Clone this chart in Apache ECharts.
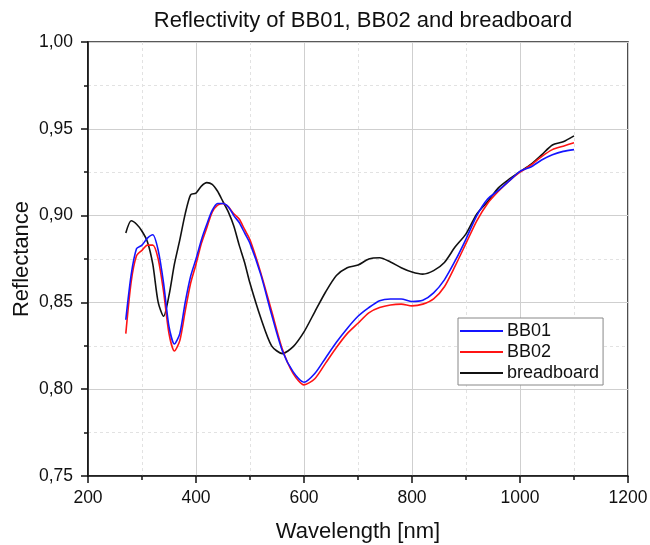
<!DOCTYPE html>
<html>
<head>
    <meta charset="utf-8">
    <title>Reflectivity</title>
    <script src="https://cdn.jsdelivr.net/npm/echarts@6/dist/echarts.min.js"></script>
    <style>
        html, body { margin: 0; padding: 0; background: #fff; }
        #chart { width: 650px; height: 545px; }
    </style>
</head>
<body>
<div id="chart"></div>
<script>
    // wavelength in nm
    var wavelengths = [270, 280, 290, 300, 310, 320, 330, 340, 350, 360, 370, 380, 390, 400, 410, 420, 430, 440, 450, 460,
        470, 480, 490, 500, 520, 540, 560, 580, 600, 620, 640, 660, 680, 700, 720, 740, 760, 780, 800, 820,
        840, 860, 880, 900, 920, 940, 960, 980, 1000, 1020, 1040, 1060, 1080, 1100];

    var bb01 = [0.840, 0.866, 0.881, 0.883, 0.887, 0.889, 0.880, 0.861, 0.836, 0.826, 0.832, 0.850, 0.865, 0.875, 0.886, 0.895, 0.903, 0.907, 0.907, 0.905,
        0.900, 0.896, 0.890, 0.884, 0.866, 0.843, 0.822, 0.810, 0.804, 0.809, 0.818, 0.827, 0.835, 0.842, 0.847, 0.851, 0.852, 0.852, 0.8505, 0.8512,
        0.8555, 0.863, 0.874, 0.8865, 0.900, 0.9095, 0.9145, 0.920, 0.9255, 0.928, 0.932, 0.935, 0.937, 0.938];

    var bb02 = [0.832, 0.862, 0.877, 0.880, 0.883, 0.883, 0.875, 0.856, 0.832, 0.822, 0.828, 0.845, 0.861, 0.872, 0.884, 0.893, 0.902, 0.906, 0.907, 0.905,
        0.901, 0.898, 0.892, 0.886, 0.867, 0.845, 0.823, 0.809, 0.8025, 0.806, 0.815, 0.824, 0.832, 0.838, 0.844, 0.847, 0.8485, 0.849, 0.848, 0.849,
        0.852, 0.859, 0.871, 0.884, 0.897, 0.907, 0.914, 0.920, 0.925, 0.929, 0.934, 0.938, 0.940, 0.942];

    var breadboard = [0.890, 0.897, 0.895, 0.891, 0.885, 0.872, 0.850, 0.842, 0.854, 0.872, 0.886, 0.901, 0.912, 0.913, 0.917, 0.919, 0.918, 0.914, 0.908, 0.902,
        0.894, 0.883, 0.873, 0.861, 0.841, 0.825, 0.8205, 0.8245, 0.833, 0.8446, 0.856, 0.8655, 0.870, 0.8715, 0.875, 0.8757, 0.8733, 0.870, 0.8675, 0.8663,
        0.8683, 0.873, 0.882, 0.8895, 0.901, 0.908, 0.916, 0.921, 0.9253, 0.9295, 0.935, 0.9407, 0.9425, 0.9459];

    var seriesNames = ['BB01', 'BB02', 'breadboard'];
    var seriesColors = ['#1414ff', '#ff1414', '#111111'];

    function pairs(ys) {
        var out = [];
        for (var i = 0; i < wavelengths.length; i++) {
            out.push([wavelengths[i], ys[i]]);
        }
        return out;
    }

    var myChart = echarts.init(document.getElementById('chart'));
    var font = 'Liberation Sans, Arial, sans-serif';
    var dataList = [bb01, bb02, breadboard];
    var series = [];
    for (var i = 0; i < dataList.length; i++) {
        series.push({
            name: seriesNames[i],
            type: 'line',
            data: pairs(dataList[i]),
            symbol: 'none',
            smooth: 0.25,
            lineStyle: { color: seriesColors[i], width: 1.6 },
            itemStyle: { color: seriesColors[i] },
            z: 3 - i
        });
    }

    var option = {
        animation: false,
        backgroundColor: '#fff',
        title: {
            text: 'Reflectivity of BB01, BB02 and breadboard',
            left: 358,
            top: 5,
            textAlign: 'center',
            textStyle: { fontFamily: font, fontSize: 22, fontWeight: 'normal', color: '#111' }
        },
        grid: {
            left: 88, right: 22, top: 42, bottom: 69,
            outerBoundsMode: 'none',
            containLabel: false,
            show: true,
            borderColor: '#222',
            borderWidth: 1.6,
            backgroundColor: 'transparent'
        },
        legend: {
            orient: 'vertical',
            left: 458,
            top: 318,
            icon: 'rect',
            itemWidth: 43,
            itemHeight: 2,
            itemGap: 3,
            padding: [4, 4, 3, 2],
            borderColor: '#888',
            borderWidth: 1,
            borderRadius: 0,
            backgroundColor: '#fff',
            textStyle: { fontFamily: font, fontSize: 18, color: '#111', padding: [0, 0, 0, -1] },
            data: seriesNames
        },
        xAxis: {
            type: 'value',
            min: 200,
            max: 1200,
            interval: 200,
            name: 'Wavelength [nm]',
            nameLocation: 'middle',
            nameGap: 45,
            nameMoveOverlap: false,
            nameTextStyle: { fontFamily: font, fontSize: 22, color: '#111' },
            axisLine: { lineStyle: { color: '#111', width: 1.6 } },
            axisTick: { show: true, inside: false, length: 7, lineStyle: { color: '#111', width: 1.5 } },
            minorTick: { show: true, splitNumber: 2, length: 4, lineStyle: { color: '#111', width: 1.5 } },
            axisLabel: {
                fontFamily: font, fontSize: 17.5, color: '#111', margin: 13,
                formatter: function (v) { return String(v); }
            },
            splitLine: { show: true, lineStyle: { color: '#cfcfcf', width: 1 } },
            minorSplitLine: { show: true, lineStyle: { color: '#e2e2e2', width: 1, type: [3, 3] } }
        },
        yAxis: {
            type: 'value',
            min: 0.75,
            max: 1.00,
            interval: 0.05,
            name: 'Reflectance',
            nameLocation: 'middle',
            nameGap: 55,
            nameMoveOverlap: false,
            nameRotate: 90,
            nameTextStyle: { fontFamily: font, fontSize: 22, color: '#111' },
            axisLine: { show: true, lineStyle: { color: '#111', width: 1.6 } },
            axisTick: { show: true, inside: false, length: 7, lineStyle: { color: '#111', width: 1.5 } },
            minorTick: { show: true, splitNumber: 2, length: 4, lineStyle: { color: '#111', width: 1.5 } },
            axisLabel: {
                fontFamily: font, fontSize: 17.5, color: '#111', margin: 15,
                formatter: function (v) { return v.toFixed(2).replace('.', ','); }
            },
            splitLine: { show: true, lineStyle: { color: '#cfcfcf', width: 1 } },
            minorSplitLine: { show: true, lineStyle: { color: '#e2e2e2', width: 1, type: [3, 3] } }
        },
        series: series
    };
    myChart.setOption(option);
</script>
</body>
</html>
